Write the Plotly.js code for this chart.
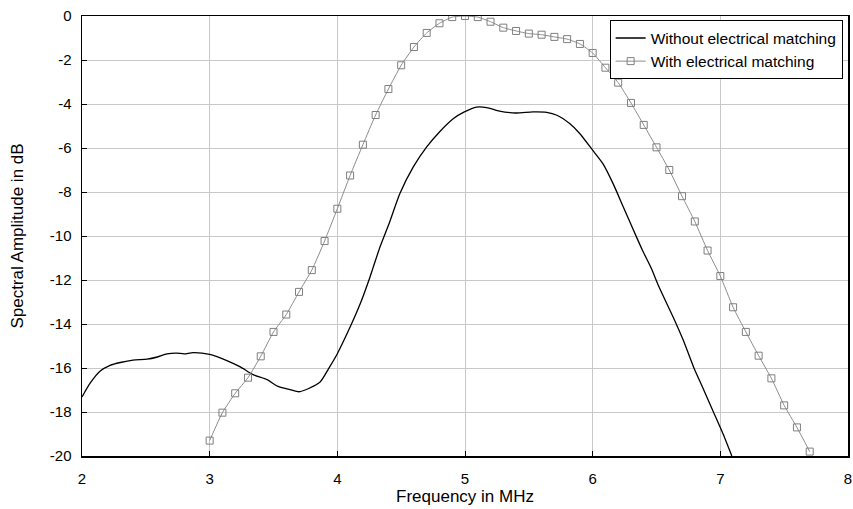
<!DOCTYPE html>
<html>
<head>
<meta charset="utf-8">
<script src="https://cdn.plot.ly/plotly-3.0.1.min.js"></script>
<style>html,body{margin:0;padding:0;background:#fff;}#chart{width:853px;height:509px;}</style>
</head>
<body>
<div id="chart"></div>
<script>
// Without electrical matching (black curve)
const freqWithout = [2.0, 2.065, 2.143, 2.22, 2.30, 2.40, 2.51, 2.59, 2.665, 2.74, 2.80, 2.87, 3.0, 3.13, 3.24, 3.34, 3.45, 3.53, 3.63, 3.70, 3.78, 3.865, 3.94, 4.0, 4.10, 4.18, 4.256, 4.334, 4.41, 4.49, 4.595, 4.70, 4.80, 4.91, 4.995, 5.09, 5.17, 5.27, 5.40, 5.53, 5.64, 5.72, 5.82, 5.90, 6.0, 6.08, 6.16, 6.24, 6.32, 6.39, 6.46, 6.52, 6.63, 6.71, 6.79, 6.86, 6.94, 7.02, 7.09];
const ampWithout = [-17.32, -16.68, -16.14, -15.88, -15.75, -15.64, -15.6, -15.5, -15.36, -15.32, -15.36, -15.3, -15.38, -15.65, -15.95, -16.3, -16.53, -16.82, -16.98, -17.08, -16.92, -16.64, -15.95, -15.35, -14.14, -13.07, -11.86, -10.5, -9.36, -8.07, -6.86, -5.95, -5.27, -4.66, -4.36, -4.14, -4.16, -4.32, -4.41, -4.36, -4.38, -4.51, -4.89, -5.35, -6.1, -6.71, -7.62, -8.68, -9.74, -10.65, -11.48, -12.32, -13.68, -14.74, -15.95, -16.86, -17.92, -18.98, -20.0];

// With electrical matching (grey curve with square markers)
const freqWith = [3.0, 3.1, 3.2, 3.3, 3.4, 3.5, 3.6, 3.7, 3.8, 3.9, 4.0, 4.1, 4.2, 4.3, 4.4, 4.5, 4.6, 4.7, 4.8, 4.9, 5.0, 5.1, 5.2, 5.3, 5.4, 5.5, 5.6, 5.7, 5.8, 5.9, 6.0, 6.1, 6.2, 6.3, 6.4, 6.5, 6.6, 6.7, 6.8, 6.9, 7.0, 7.1, 7.2, 7.3, 7.4, 7.5, 7.6, 7.7];
const ampWith = [-19.3, -18.03, -17.15, -16.44, -15.47, -14.36, -13.57, -12.54, -11.55, -10.23, -8.76, -7.25, -5.85, -4.5, -3.32, -2.24, -1.41, -0.77, -0.33, -0.05, 0.0, -0.05, -0.26, -0.53, -0.68, -0.80, -0.85, -0.95, -1.05, -1.27, -1.68, -2.35, -3.03, -3.95, -4.95, -5.97, -7.0, -8.19, -9.34, -10.66, -11.82, -13.24, -14.36, -15.44, -16.47, -17.7, -18.7, -19.8];

const xTicks = [2, 3, 4, 5, 6, 7, 8];
const yTicks = [0, -2, -4, -6, -8, -10, -12, -14, -16, -18, -20];

const traces = [
  {
    x: freqWithout, y: ampWithout, mode: 'lines', type: 'scatter',
    name: 'Without electrical matching',
    line: {color: '#000000', width: 1.3, shape: 'spline', smoothing: 0.6}
  },
  {
    x: freqWith, y: ampWith, mode: 'lines+markers', type: 'scatter',
    name: 'With electrical matching',
    line: {color: '#8c8c8c', width: 1, shape: 'spline', smoothing: 0.5},
    marker: {symbol: 'square-open', size: 7, color: '#7f7f7f', line: {width: 1, color: '#7f7f7f'}}
  }
];

const layout = {
  width: 853, height: 509,
  margin: {l: 82, r: 5, t: 16, b: 53},
  paper_bgcolor: '#ffffff', plot_bgcolor: '#ffffff',
  font: {family: 'Liberation Sans, Arial, sans-serif', size: 15, color: '#000'},
  showlegend: true,
  legend: {
    x: 0.993, y: 0.99, xanchor: 'right', yanchor: 'top',
    xref: 'paper', yref: 'paper',
    bgcolor: '#ffffff', bordercolor: '#000000', borderwidth: 1,
    font: {size: 15.5, family: 'Liberation Sans, Arial, sans-serif'},
    tracegroupgap: 0, itemwidth: 30
  },
  xaxis: {
    range: [2, 8], tickvals: xTicks, ticktext: xTicks.map(String),
    showgrid: true, gridcolor: '#c8c8c8', gridwidth: 1,
    showline: true, linecolor: '#000', linewidth: 1.5, mirror: true,
    ticks: 'inside', ticklen: 5, tickcolor: '#000',
    zeroline: false, automargin: false,
    ticklabelstandoff: 8,
    title: {text: 'Frequency in MHz', font: {size: 17}, standoff: 4},
    tickfont: {size: 15}
  },
  yaxis: {
    range: [-20, 0], tickvals: yTicks, ticktext: yTicks.map(String),
    showgrid: true, gridcolor: '#c8c8c8', gridwidth: 1,
    showline: true, linecolor: '#000', linewidth: 1.5, mirror: true,
    ticks: 'inside', ticklen: 5, tickcolor: '#000',
    zeroline: false, automargin: false,
    ticklabelstandoff: 6,
    title: {text: 'Spectral Amplitude in dB', font: {size: 17}, standoff: 22},
    tickfont: {size: 15}
  }
};

Plotly.newPlot('chart', traces, layout, {displayModeBar: false, staticPlot: true});
</script>
</body>
</html>
